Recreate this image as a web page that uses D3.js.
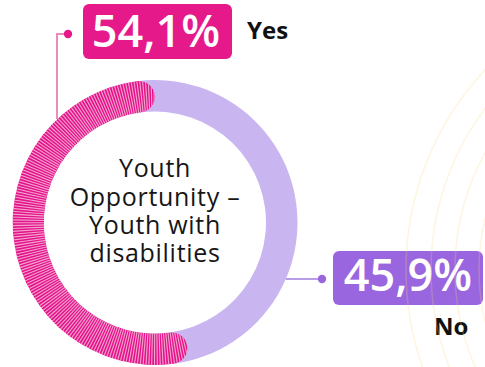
<!DOCTYPE html>
<html>
<head>
<meta charset="utf-8">
<script src="https://cdn.jsdelivr.net/npm/d3@7"></script>
<style>
  html, body { margin: 0; padding: 0; background: #ffffff; }
  svg { display: block; }
</style>
</head>
<body>
<svg id="chart" width="485" height="367"></svg>
<script>
// ---- data ----
const categories = ["Yes", "No"];
const values = [54.1, 45.9];
const valueLabels = ["54,1%", "45,9%"];
const centerTitle = ["Youth", "Opportunity –", "Youth with", "disabilities"];

// ---- styles ----
const colors = { Yes: "#e3138a", No: "#c9b6f0" };
const boxColors = { Yes: "#e6198b", No: "#9a66e0" };
const lineColors = { Yes: "#e98ac0", No: "#b99ce8" };

const svg = d3.select("#chart");
const cx = 155, cy = 222.5;
const rOuter = 142.5, rInner = 111;

const pie = d3.pie().sort(null).startAngle(0).endAngle(-2 * Math.PI);
const arcs = pie(values);

const g = svg.append("g").attr("transform", `translate(${cx},${cy})`);
const arcGen = d3.arc().innerRadius(rInner).outerRadius(rOuter);

// "No" slice as a track extending beneath the Yes caps
const noArc = arcs[1];
g.append("path")
  .attr("d", arcGen({ startAngle: noArc.startAngle + 0.35, endAngle: noArc.endAngle - 0.35 }))
  .attr("fill", colors.No);

// "Yes" slice with rounded ends + radial stripes
const yesArc = arcs[0];
const roundArc = d3.arc().innerRadius(rInner).outerRadius(rOuter).cornerRadius((rOuter - rInner) / 2);
svg.append("defs").append("clipPath").attr("id", "yesClip")
  .append("path").attr("d", roundArc(yesArc));
const yesG = g.append("g").attr("clip-path", "url(#yesClip)");
yesG.append("path").attr("d", roundArc(yesArc)).attr("fill", colors.Yes);
const step = 1.15 * Math.PI / 180;
const a0 = Math.min(yesArc.startAngle, yesArc.endAngle), a1 = Math.max(yesArc.startAngle, yesArc.endAngle);
yesG.selectAll("line.stripe").data(d3.range(a0, a1, step)).join("line")
  .attr("class", "stripe")
  .attr("x1", a => Math.sin(a) * (rInner - 2))
  .attr("y1", a => -Math.cos(a) * (rInner - 2))
  .attr("x2", a => Math.sin(a) * (rOuter + 2))
  .attr("y2", a => -Math.cos(a) * (rOuter + 2))
  .attr("stroke", "#f5a3cf")
  .attr("stroke-width", 1.1);

// center title
const title = svg.append("text")
  .attr("text-anchor", "middle")
  .attr("font-family", "'Open Sans', sans-serif")
  .attr("font-weight", 400)
  .attr("font-size", 25)
  .attr("letter-spacing", 0.7)
  .attr("fill", "#161616");
const baselines = [177, 206, 234, 262];
centerTitle.forEach((t, i) => {
  title.append("tspan").attr("x", cx).attr("y", baselines[i]).text(t);
});

// ---- Yes label ----
const yesLineX = 57;
const yesLineBottom = cy - Math.sqrt(rOuter * rOuter - (cx - yesLineX) ** 2);
svg.append("path")
  .attr("d", `M${yesLineX},${yesLineBottom} V34 H68`)
  .attr("fill", "none").attr("stroke", lineColors.Yes).attr("stroke-width", 2);
svg.append("circle").attr("cx", 68).attr("cy", 34).attr("r", 4.2).attr("fill", boxColors.Yes);
svg.append("rect").attr("x", 83).attr("y", 4).attr("width", 149).attr("height", 55).attr("rx", 6)
  .attr("fill", boxColors.Yes);
svg.append("text").attr("x", 156).attr("y", 47).attr("text-anchor", "middle")
  .attr("font-family", "'Open Sans', sans-serif").attr("font-weight", 600).attr("font-size", 45)
  .attr("fill", "#fff").text(valueLabels[0]);
svg.append("text").attr("x", 247).attr("y", 39)
  .attr("font-family", "'Open Sans', sans-serif").attr("font-weight", 700).attr("font-size", 24)
  .attr("fill", "#111").text(categories[0]);

// ---- No label ----
const noLineY = 279;
const noLineStart = cx + Math.sqrt(rOuter * rOuter - (noLineY - cy) ** 2);
svg.append("line").attr("x1", noLineStart).attr("y1", noLineY).attr("x2", 322).attr("y2", noLineY)
  .attr("stroke", lineColors.No).attr("stroke-width", 2);
svg.append("circle").attr("cx", 322).attr("cy", noLineY).attr("r", 4.2).attr("fill", boxColors.No);
svg.append("rect").attr("x", 333).attr("y", 251).attr("width", 150).attr("height", 54).attr("rx", 6)
  .attr("fill", boxColors.No);
svg.append("text").attr("x", 408).attr("y", 291).attr("text-anchor", "middle")
  .attr("font-family", "'Open Sans', sans-serif").attr("font-weight", 600).attr("font-size", 45)
  .attr("fill", "#fff").text(valueLabels[1]);
svg.append("text").attr("x", 434).attr("y", 335)
  .attr("font-family", "'Open Sans', sans-serif").attr("font-weight", 700).attr("font-size", 24)
  .attr("fill", "#111").text(categories[1]);

// decorative faint concentric arcs on the right
const decoRadii = [293, 268, 244, 220];
svg.append("g").selectAll("circle").data(decoRadii).join("circle")
  .attr("cx", 699).attr("cy", 270).attr("r", d => d)
  .attr("fill", "none").attr("stroke", "rgba(245,215,120,0.24)").attr("stroke-width", 1.5);
</script>
</body>
</html>
